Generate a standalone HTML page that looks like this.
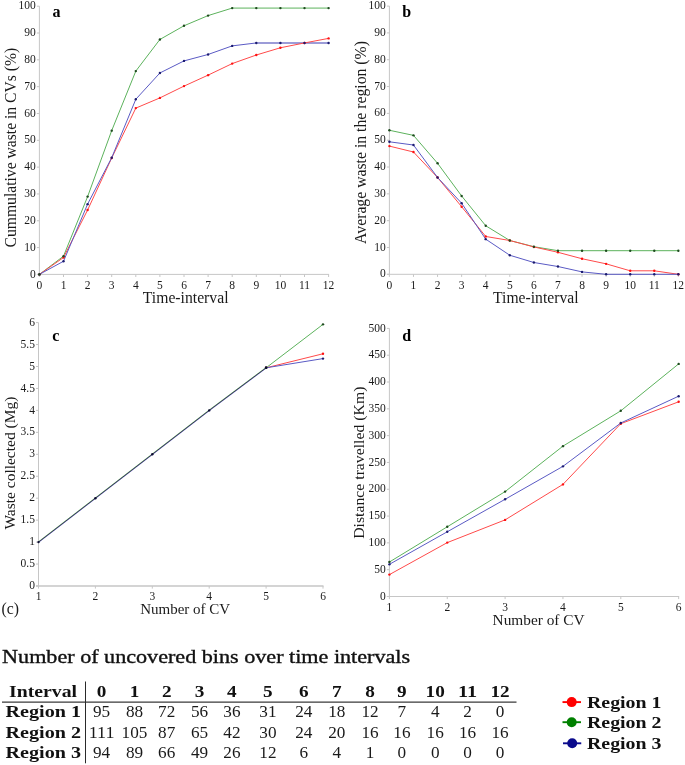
<!DOCTYPE html>
<html><head><meta charset="utf-8"><title>Figure</title>
<style>
html,body{margin:0;padding:0;background:#fff;}
body{width:685px;height:765px;position:relative;overflow:hidden;font-family:"Liberation Serif", serif;}
</style></head><body>
<svg width="685" height="765" viewBox="0 0 685 765" style="position:absolute;left:0;top:0;will-change:transform" font-family='"Liberation Serif", serif'>
<line x1="256.30" y1="42.94" x2="328.60" y2="42.94" stroke="#9c9cd8" stroke-width="2.1"/>
<line x1="39.4" y1="274.9" x2="39.4" y2="6.199999999999989" stroke="#c6c6c6" stroke-width="1"/>
<line x1="36.9" y1="274.4" x2="329.1" y2="274.4" stroke="#c6c6c6" stroke-width="1.0"/>
<line x1="39.40" y1="274.4" x2="39.40" y2="277.0" stroke="#c6c6c6" stroke-width="1"/>
<line x1="63.50" y1="274.4" x2="63.50" y2="277.0" stroke="#c6c6c6" stroke-width="1"/>
<line x1="87.60" y1="274.4" x2="87.60" y2="277.0" stroke="#c6c6c6" stroke-width="1"/>
<line x1="111.70" y1="274.4" x2="111.70" y2="277.0" stroke="#c6c6c6" stroke-width="1"/>
<line x1="135.80" y1="274.4" x2="135.80" y2="277.0" stroke="#c6c6c6" stroke-width="1"/>
<line x1="159.90" y1="274.4" x2="159.90" y2="277.0" stroke="#c6c6c6" stroke-width="1"/>
<line x1="184.00" y1="274.4" x2="184.00" y2="277.0" stroke="#c6c6c6" stroke-width="1"/>
<line x1="208.10" y1="274.4" x2="208.10" y2="277.0" stroke="#c6c6c6" stroke-width="1"/>
<line x1="232.20" y1="274.4" x2="232.20" y2="277.0" stroke="#c6c6c6" stroke-width="1"/>
<line x1="256.30" y1="274.4" x2="256.30" y2="277.0" stroke="#c6c6c6" stroke-width="1"/>
<line x1="280.40" y1="274.4" x2="280.40" y2="277.0" stroke="#c6c6c6" stroke-width="1"/>
<line x1="304.50" y1="274.4" x2="304.50" y2="277.0" stroke="#c6c6c6" stroke-width="1"/>
<line x1="328.60" y1="274.4" x2="328.60" y2="277.0" stroke="#c6c6c6" stroke-width="1"/>
<line x1="36.9" y1="274.4" x2="39.4" y2="274.4" stroke="#c6c6c6" stroke-width="1"/>
<text x="35.80" y="277.50" font-size="11.5" text-anchor="end" font-weight="400" fill="#1a1a1a" >0</text>
<line x1="36.9" y1="247.57999999999998" x2="39.4" y2="247.57999999999998" stroke="#c6c6c6" stroke-width="1"/>
<text x="35.80" y="250.68" font-size="11.5" text-anchor="end" font-weight="400" fill="#1a1a1a" >10</text>
<line x1="36.9" y1="220.76" x2="39.4" y2="220.76" stroke="#c6c6c6" stroke-width="1"/>
<text x="35.80" y="223.86" font-size="11.5" text-anchor="end" font-weight="400" fill="#1a1a1a" >20</text>
<line x1="36.9" y1="193.94" x2="39.4" y2="193.94" stroke="#c6c6c6" stroke-width="1"/>
<text x="35.80" y="197.04" font-size="11.5" text-anchor="end" font-weight="400" fill="#1a1a1a" >30</text>
<line x1="36.9" y1="167.11999999999998" x2="39.4" y2="167.11999999999998" stroke="#c6c6c6" stroke-width="1"/>
<text x="35.80" y="170.22" font-size="11.5" text-anchor="end" font-weight="400" fill="#1a1a1a" >40</text>
<line x1="36.9" y1="140.29999999999998" x2="39.4" y2="140.29999999999998" stroke="#c6c6c6" stroke-width="1"/>
<text x="35.80" y="143.40" font-size="11.5" text-anchor="end" font-weight="400" fill="#1a1a1a" >50</text>
<line x1="36.9" y1="113.47999999999999" x2="39.4" y2="113.47999999999999" stroke="#c6c6c6" stroke-width="1"/>
<text x="35.80" y="116.58" font-size="11.5" text-anchor="end" font-weight="400" fill="#1a1a1a" >60</text>
<line x1="36.9" y1="86.65999999999997" x2="39.4" y2="86.65999999999997" stroke="#c6c6c6" stroke-width="1"/>
<text x="35.80" y="89.76" font-size="11.5" text-anchor="end" font-weight="400" fill="#1a1a1a" >70</text>
<line x1="36.9" y1="59.839999999999975" x2="39.4" y2="59.839999999999975" stroke="#c6c6c6" stroke-width="1"/>
<text x="35.80" y="62.94" font-size="11.5" text-anchor="end" font-weight="400" fill="#1a1a1a" >80</text>
<line x1="36.9" y1="33.01999999999998" x2="39.4" y2="33.01999999999998" stroke="#c6c6c6" stroke-width="1"/>
<text x="35.80" y="36.12" font-size="11.5" text-anchor="end" font-weight="400" fill="#1a1a1a" >90</text>
<line x1="36.9" y1="6.199999999999989" x2="39.4" y2="6.199999999999989" stroke="#c6c6c6" stroke-width="1"/>
<text x="35.80" y="9.30" font-size="11.5" text-anchor="end" font-weight="400" fill="#1a1a1a" >100</text>
<text x="39.40" y="289.00" font-size="11.5" text-anchor="middle" font-weight="400" fill="#1a1a1a" >0</text>
<text x="63.50" y="289.00" font-size="11.5" text-anchor="middle" font-weight="400" fill="#1a1a1a" >1</text>
<text x="87.60" y="289.00" font-size="11.5" text-anchor="middle" font-weight="400" fill="#1a1a1a" >2</text>
<text x="111.70" y="289.00" font-size="11.5" text-anchor="middle" font-weight="400" fill="#1a1a1a" >3</text>
<text x="135.80" y="289.00" font-size="11.5" text-anchor="middle" font-weight="400" fill="#1a1a1a" >4</text>
<text x="159.90" y="289.00" font-size="11.5" text-anchor="middle" font-weight="400" fill="#1a1a1a" >5</text>
<text x="184.00" y="289.00" font-size="11.5" text-anchor="middle" font-weight="400" fill="#1a1a1a" >6</text>
<text x="208.10" y="289.00" font-size="11.5" text-anchor="middle" font-weight="400" fill="#1a1a1a" >7</text>
<text x="232.20" y="289.00" font-size="11.5" text-anchor="middle" font-weight="400" fill="#1a1a1a" >8</text>
<text x="256.30" y="289.00" font-size="11.5" text-anchor="middle" font-weight="400" fill="#1a1a1a" >9</text>
<text x="280.40" y="289.00" font-size="11.5" text-anchor="middle" font-weight="400" fill="#1a1a1a" >10</text>
<text x="304.50" y="289.00" font-size="11.5" text-anchor="middle" font-weight="400" fill="#1a1a1a" >11</text>
<text x="328.60" y="289.00" font-size="11.5" text-anchor="middle" font-weight="400" fill="#1a1a1a" >12</text>
<polyline points="39.40,274.40 63.50,256.16 87.60,196.62 111.70,130.64 135.80,71.10 159.90,39.46 184.00,25.78 208.10,15.59 232.20,8.08 256.30,8.08 280.40,8.08 304.50,8.08 328.60,8.08" fill="none" stroke="#5cb25c" stroke-width="1.0" stroke-linejoin="round"/>
<polyline points="39.40,274.40 63.50,257.50 87.60,210.03 111.70,158.00 135.80,108.12 159.90,97.92 184.00,86.12 208.10,75.13 232.20,63.59 256.30,55.01 280.40,47.77 304.50,42.94 328.60,38.38" fill="none" stroke="#ff4a4a" stroke-width="1.0" stroke-linejoin="round"/>
<polyline points="39.40,274.40 63.50,261.26 87.60,204.13 111.70,157.73 135.80,99.27 159.90,72.98 184.00,60.91 208.10,54.48 232.20,45.89 256.30,42.94" fill="none" stroke="#5a5ac4" stroke-width="1.0" stroke-linejoin="round"/>
<circle cx="39.40" cy="274.40" r="1.2" fill="#ff1010"/>
<circle cx="63.50" cy="257.50" r="1.2" fill="#ff1010"/>
<circle cx="87.60" cy="210.03" r="1.2" fill="#ff1010"/>
<circle cx="111.70" cy="158.00" r="1.2" fill="#ff1010"/>
<circle cx="135.80" cy="108.12" r="1.2" fill="#ff1010"/>
<circle cx="159.90" cy="97.92" r="1.2" fill="#ff1010"/>
<circle cx="184.00" cy="86.12" r="1.2" fill="#ff1010"/>
<circle cx="208.10" cy="75.13" r="1.2" fill="#ff1010"/>
<circle cx="232.20" cy="63.59" r="1.2" fill="#ff1010"/>
<circle cx="256.30" cy="55.01" r="1.2" fill="#ff1010"/>
<circle cx="280.40" cy="47.77" r="1.2" fill="#ff1010"/>
<circle cx="304.50" cy="42.94" r="1.2" fill="#ff1010"/>
<circle cx="328.60" cy="38.38" r="1.2" fill="#ff1010"/>
<circle cx="39.40" cy="274.40" r="1.2" fill="#1c1c70"/>
<circle cx="63.50" cy="261.26" r="1.2" fill="#1c1c70"/>
<circle cx="87.60" cy="204.13" r="1.2" fill="#1c1c70"/>
<circle cx="111.70" cy="157.73" r="1.2" fill="#1c1c70"/>
<circle cx="135.80" cy="99.27" r="1.2" fill="#1c1c70"/>
<circle cx="159.90" cy="72.98" r="1.2" fill="#1c1c70"/>
<circle cx="184.00" cy="60.91" r="1.2" fill="#1c1c70"/>
<circle cx="208.10" cy="54.48" r="1.2" fill="#1c1c70"/>
<circle cx="232.20" cy="45.89" r="1.2" fill="#1c1c70"/>
<circle cx="256.30" cy="42.94" r="1.2" fill="#1c1c70"/>
<circle cx="280.40" cy="42.94" r="1.2" fill="#1c1c70"/>
<circle cx="304.50" cy="42.94" r="1.2" fill="#1c1c70"/>
<circle cx="328.60" cy="42.94" r="1.2" fill="#1c1c70"/>
<circle cx="39.40" cy="274.40" r="1.2" fill="#1e4a1e"/>
<circle cx="63.50" cy="256.16" r="1.2" fill="#1e4a1e"/>
<circle cx="87.60" cy="196.62" r="1.2" fill="#1e4a1e"/>
<circle cx="111.70" cy="130.64" r="1.2" fill="#1e4a1e"/>
<circle cx="135.80" cy="71.10" r="1.2" fill="#1e4a1e"/>
<circle cx="159.90" cy="39.46" r="1.2" fill="#1e4a1e"/>
<circle cx="184.00" cy="25.78" r="1.2" fill="#1e4a1e"/>
<circle cx="208.10" cy="15.59" r="1.2" fill="#1e4a1e"/>
<circle cx="232.20" cy="8.08" r="1.2" fill="#1e4a1e"/>
<circle cx="256.30" cy="8.08" r="1.2" fill="#1e4a1e"/>
<circle cx="280.40" cy="8.08" r="1.2" fill="#1e4a1e"/>
<circle cx="304.50" cy="8.08" r="1.2" fill="#1e4a1e"/>
<circle cx="328.60" cy="8.08" r="1.2" fill="#1e4a1e"/>
<text transform="translate(15.6,147.65) rotate(-90)" x="0" y="0" font-size="15.7" text-anchor="middle" fill="#1a1a1a" textLength="199.7" lengthAdjust="spacingAndGlyphs">Cummulative waste in CVs (%)</text>
<text x="185.65" y="302.90" font-size="15.7" text-anchor="middle" font-weight="400" fill="#1a1a1a" textLength="85.69999999999999" lengthAdjust="spacingAndGlyphs" >Time-interval</text>
<text x="52.50" y="17.30" font-size="16" text-anchor="start" font-weight="700" fill="#000" >a</text>
<line x1="389.4" y1="274.8" x2="389.4" y2="6.100000000000023" stroke="#c6c6c6" stroke-width="1"/>
<line x1="386.9" y1="274.3" x2="678.8599999999999" y2="274.3" stroke="#c6c6c6" stroke-width="1.0"/>
<line x1="389.40" y1="274.3" x2="389.40" y2="276.90000000000003" stroke="#c6c6c6" stroke-width="1"/>
<line x1="413.48" y1="274.3" x2="413.48" y2="276.90000000000003" stroke="#c6c6c6" stroke-width="1"/>
<line x1="437.56" y1="274.3" x2="437.56" y2="276.90000000000003" stroke="#c6c6c6" stroke-width="1"/>
<line x1="461.64" y1="274.3" x2="461.64" y2="276.90000000000003" stroke="#c6c6c6" stroke-width="1"/>
<line x1="485.72" y1="274.3" x2="485.72" y2="276.90000000000003" stroke="#c6c6c6" stroke-width="1"/>
<line x1="509.80" y1="274.3" x2="509.80" y2="276.90000000000003" stroke="#c6c6c6" stroke-width="1"/>
<line x1="533.88" y1="274.3" x2="533.88" y2="276.90000000000003" stroke="#c6c6c6" stroke-width="1"/>
<line x1="557.96" y1="274.3" x2="557.96" y2="276.90000000000003" stroke="#c6c6c6" stroke-width="1"/>
<line x1="582.04" y1="274.3" x2="582.04" y2="276.90000000000003" stroke="#c6c6c6" stroke-width="1"/>
<line x1="606.12" y1="274.3" x2="606.12" y2="276.90000000000003" stroke="#c6c6c6" stroke-width="1"/>
<line x1="630.20" y1="274.3" x2="630.20" y2="276.90000000000003" stroke="#c6c6c6" stroke-width="1"/>
<line x1="654.28" y1="274.3" x2="654.28" y2="276.90000000000003" stroke="#c6c6c6" stroke-width="1"/>
<line x1="678.36" y1="274.3" x2="678.36" y2="276.90000000000003" stroke="#c6c6c6" stroke-width="1"/>
<line x1="386.9" y1="274.3" x2="389.4" y2="274.3" stroke="#c6c6c6" stroke-width="1"/>
<text x="385.80" y="277.40" font-size="11.5" text-anchor="end" font-weight="400" fill="#1a1a1a" >0</text>
<line x1="386.9" y1="247.48000000000002" x2="389.4" y2="247.48000000000002" stroke="#c6c6c6" stroke-width="1"/>
<text x="385.80" y="250.58" font-size="11.5" text-anchor="end" font-weight="400" fill="#1a1a1a" >10</text>
<line x1="386.9" y1="220.66000000000003" x2="389.4" y2="220.66000000000003" stroke="#c6c6c6" stroke-width="1"/>
<text x="385.80" y="223.76" font-size="11.5" text-anchor="end" font-weight="400" fill="#1a1a1a" >20</text>
<line x1="386.9" y1="193.84000000000003" x2="389.4" y2="193.84000000000003" stroke="#c6c6c6" stroke-width="1"/>
<text x="385.80" y="196.94" font-size="11.5" text-anchor="end" font-weight="400" fill="#1a1a1a" >30</text>
<line x1="386.9" y1="167.02" x2="389.4" y2="167.02" stroke="#c6c6c6" stroke-width="1"/>
<text x="385.80" y="170.12" font-size="11.5" text-anchor="end" font-weight="400" fill="#1a1a1a" >40</text>
<line x1="386.9" y1="140.20000000000002" x2="389.4" y2="140.20000000000002" stroke="#c6c6c6" stroke-width="1"/>
<text x="385.80" y="143.30" font-size="11.5" text-anchor="end" font-weight="400" fill="#1a1a1a" >50</text>
<line x1="386.9" y1="113.38000000000002" x2="389.4" y2="113.38000000000002" stroke="#c6c6c6" stroke-width="1"/>
<text x="385.80" y="116.48" font-size="11.5" text-anchor="end" font-weight="400" fill="#1a1a1a" >60</text>
<line x1="386.9" y1="86.56" x2="389.4" y2="86.56" stroke="#c6c6c6" stroke-width="1"/>
<text x="385.80" y="89.66" font-size="11.5" text-anchor="end" font-weight="400" fill="#1a1a1a" >70</text>
<line x1="386.9" y1="59.74000000000001" x2="389.4" y2="59.74000000000001" stroke="#c6c6c6" stroke-width="1"/>
<text x="385.80" y="62.84" font-size="11.5" text-anchor="end" font-weight="400" fill="#1a1a1a" >80</text>
<line x1="386.9" y1="32.920000000000016" x2="389.4" y2="32.920000000000016" stroke="#c6c6c6" stroke-width="1"/>
<text x="385.80" y="36.02" font-size="11.5" text-anchor="end" font-weight="400" fill="#1a1a1a" >90</text>
<line x1="386.9" y1="6.100000000000023" x2="389.4" y2="6.100000000000023" stroke="#c6c6c6" stroke-width="1"/>
<text x="385.80" y="9.20" font-size="11.5" text-anchor="end" font-weight="400" fill="#1a1a1a" >100</text>
<text x="389.40" y="288.90" font-size="11.5" text-anchor="middle" font-weight="400" fill="#1a1a1a" >0</text>
<text x="413.48" y="288.90" font-size="11.5" text-anchor="middle" font-weight="400" fill="#1a1a1a" >1</text>
<text x="437.56" y="288.90" font-size="11.5" text-anchor="middle" font-weight="400" fill="#1a1a1a" >2</text>
<text x="461.64" y="288.90" font-size="11.5" text-anchor="middle" font-weight="400" fill="#1a1a1a" >3</text>
<text x="485.72" y="288.90" font-size="11.5" text-anchor="middle" font-weight="400" fill="#1a1a1a" >4</text>
<text x="509.80" y="288.90" font-size="11.5" text-anchor="middle" font-weight="400" fill="#1a1a1a" >5</text>
<text x="533.88" y="288.90" font-size="11.5" text-anchor="middle" font-weight="400" fill="#1a1a1a" >6</text>
<text x="557.96" y="288.90" font-size="11.5" text-anchor="middle" font-weight="400" fill="#1a1a1a" >7</text>
<text x="582.04" y="288.90" font-size="11.5" text-anchor="middle" font-weight="400" fill="#1a1a1a" >8</text>
<text x="606.12" y="288.90" font-size="11.5" text-anchor="middle" font-weight="400" fill="#1a1a1a" >9</text>
<text x="630.20" y="288.90" font-size="11.5" text-anchor="middle" font-weight="400" fill="#1a1a1a" >10</text>
<text x="654.28" y="288.90" font-size="11.5" text-anchor="middle" font-weight="400" fill="#1a1a1a" >11</text>
<text x="678.36" y="288.90" font-size="11.5" text-anchor="middle" font-weight="400" fill="#1a1a1a" >12</text>
<polyline points="389.40,130.28 413.48,135.37 437.56,163.27 461.64,195.99 485.72,225.76 509.80,240.51 533.88,246.68 557.96,250.70 582.04,250.70 606.12,250.70 630.20,250.70 654.28,250.70 678.36,250.70" fill="none" stroke="#5cb25c" stroke-width="1.0" stroke-linejoin="round"/>
<polyline points="389.40,146.10 413.48,152.00 437.56,177.48 461.64,206.71 485.72,236.48 509.80,240.51 533.88,246.94 557.96,252.31 582.04,258.74 606.12,263.84 630.20,270.81 654.28,270.81 678.36,274.30" fill="none" stroke="#ff4a4a" stroke-width="1.0" stroke-linejoin="round"/>
<polyline points="389.40,141.81 413.48,145.03 437.56,177.48 461.64,203.23 485.72,239.17 509.80,255.26 533.88,262.50 557.96,266.52 582.04,271.89 606.12,274.30 630.20,274.30 654.28,274.30 678.36,274.30" fill="none" stroke="#5a5ac4" stroke-width="1.0" stroke-linejoin="round"/>
<circle cx="389.40" cy="146.10" r="1.2" fill="#ff1010"/>
<circle cx="413.48" cy="152.00" r="1.2" fill="#ff1010"/>
<circle cx="437.56" cy="177.48" r="1.2" fill="#ff1010"/>
<circle cx="461.64" cy="206.71" r="1.2" fill="#ff1010"/>
<circle cx="485.72" cy="236.48" r="1.2" fill="#ff1010"/>
<circle cx="509.80" cy="240.51" r="1.2" fill="#ff1010"/>
<circle cx="533.88" cy="246.94" r="1.2" fill="#ff1010"/>
<circle cx="557.96" cy="252.31" r="1.2" fill="#ff1010"/>
<circle cx="582.04" cy="258.74" r="1.2" fill="#ff1010"/>
<circle cx="606.12" cy="263.84" r="1.2" fill="#ff1010"/>
<circle cx="630.20" cy="270.81" r="1.2" fill="#ff1010"/>
<circle cx="654.28" cy="270.81" r="1.2" fill="#ff1010"/>
<circle cx="678.36" cy="274.30" r="1.2" fill="#ff1010"/>
<circle cx="389.40" cy="141.81" r="1.2" fill="#1c1c70"/>
<circle cx="413.48" cy="145.03" r="1.2" fill="#1c1c70"/>
<circle cx="437.56" cy="177.48" r="1.2" fill="#1c1c70"/>
<circle cx="461.64" cy="203.23" r="1.2" fill="#1c1c70"/>
<circle cx="485.72" cy="239.17" r="1.2" fill="#1c1c70"/>
<circle cx="509.80" cy="255.26" r="1.2" fill="#1c1c70"/>
<circle cx="533.88" cy="262.50" r="1.2" fill="#1c1c70"/>
<circle cx="557.96" cy="266.52" r="1.2" fill="#1c1c70"/>
<circle cx="582.04" cy="271.89" r="1.2" fill="#1c1c70"/>
<circle cx="606.12" cy="274.30" r="1.2" fill="#1c1c70"/>
<circle cx="630.20" cy="274.30" r="1.2" fill="#1c1c70"/>
<circle cx="654.28" cy="274.30" r="1.2" fill="#1c1c70"/>
<circle cx="678.36" cy="274.30" r="1.2" fill="#1c1c70"/>
<circle cx="389.40" cy="130.28" r="1.2" fill="#1e4a1e"/>
<circle cx="413.48" cy="135.37" r="1.2" fill="#1e4a1e"/>
<circle cx="437.56" cy="163.27" r="1.2" fill="#1e4a1e"/>
<circle cx="461.64" cy="195.99" r="1.2" fill="#1e4a1e"/>
<circle cx="485.72" cy="225.76" r="1.2" fill="#1e4a1e"/>
<circle cx="509.80" cy="240.51" r="1.2" fill="#1e4a1e"/>
<circle cx="533.88" cy="246.68" r="1.2" fill="#1e4a1e"/>
<circle cx="557.96" cy="250.70" r="1.2" fill="#1e4a1e"/>
<circle cx="582.04" cy="250.70" r="1.2" fill="#1e4a1e"/>
<circle cx="606.12" cy="250.70" r="1.2" fill="#1e4a1e"/>
<circle cx="630.20" cy="250.70" r="1.2" fill="#1e4a1e"/>
<circle cx="654.28" cy="250.70" r="1.2" fill="#1e4a1e"/>
<circle cx="678.36" cy="250.70" r="1.2" fill="#1e4a1e"/>
<text transform="translate(365.6,142.5) rotate(-90)" x="0" y="0" font-size="15.7" text-anchor="middle" fill="#1a1a1a" textLength="202.8" lengthAdjust="spacingAndGlyphs">Average waste in the region (%)</text>
<text x="535.80" y="302.80" font-size="15.7" text-anchor="middle" font-weight="400" fill="#1a1a1a" textLength="85.39999999999998" lengthAdjust="spacingAndGlyphs" >Time-interval</text>
<text x="402.30" y="17.20" font-size="16" text-anchor="start" font-weight="700" fill="#000" >b</text>
<line x1="38.5" y1="586.5" x2="38.5" y2="322.6" stroke="#c6c6c6" stroke-width="1"/>
<line x1="36.0" y1="586.0" x2="323.5" y2="586.0" stroke="#c6c6c6" stroke-width="1.6"/>
<line x1="38.50" y1="586.0" x2="38.50" y2="588.6" stroke="#c6c6c6" stroke-width="1"/>
<line x1="95.40" y1="586.0" x2="95.40" y2="588.6" stroke="#c6c6c6" stroke-width="1"/>
<line x1="152.30" y1="586.0" x2="152.30" y2="588.6" stroke="#c6c6c6" stroke-width="1"/>
<line x1="209.20" y1="586.0" x2="209.20" y2="588.6" stroke="#c6c6c6" stroke-width="1"/>
<line x1="266.10" y1="586.0" x2="266.10" y2="588.6" stroke="#c6c6c6" stroke-width="1"/>
<line x1="323.00" y1="586.0" x2="323.00" y2="588.6" stroke="#c6c6c6" stroke-width="1"/>
<line x1="36.0" y1="586.0" x2="38.5" y2="586.0" stroke="#c6c6c6" stroke-width="1"/>
<text x="34.90" y="589.10" font-size="11.5" text-anchor="end" font-weight="400" fill="#1a1a1a" >0</text>
<line x1="36.0" y1="564.05" x2="38.5" y2="564.05" stroke="#c6c6c6" stroke-width="1"/>
<text x="34.90" y="567.15" font-size="11.5" text-anchor="end" font-weight="400" fill="#1a1a1a" >0.5</text>
<line x1="36.0" y1="542.1" x2="38.5" y2="542.1" stroke="#c6c6c6" stroke-width="1"/>
<text x="34.90" y="545.20" font-size="11.5" text-anchor="end" font-weight="400" fill="#1a1a1a" >1</text>
<line x1="36.0" y1="520.15" x2="38.5" y2="520.15" stroke="#c6c6c6" stroke-width="1"/>
<text x="34.90" y="523.25" font-size="11.5" text-anchor="end" font-weight="400" fill="#1a1a1a" >1.5</text>
<line x1="36.0" y1="498.2" x2="38.5" y2="498.2" stroke="#c6c6c6" stroke-width="1"/>
<text x="34.90" y="501.30" font-size="11.5" text-anchor="end" font-weight="400" fill="#1a1a1a" >2</text>
<line x1="36.0" y1="476.25" x2="38.5" y2="476.25" stroke="#c6c6c6" stroke-width="1"/>
<text x="34.90" y="479.35" font-size="11.5" text-anchor="end" font-weight="400" fill="#1a1a1a" >2.5</text>
<line x1="36.0" y1="454.3" x2="38.5" y2="454.3" stroke="#c6c6c6" stroke-width="1"/>
<text x="34.90" y="457.40" font-size="11.5" text-anchor="end" font-weight="400" fill="#1a1a1a" >3</text>
<line x1="36.0" y1="432.35" x2="38.5" y2="432.35" stroke="#c6c6c6" stroke-width="1"/>
<text x="34.90" y="435.45" font-size="11.5" text-anchor="end" font-weight="400" fill="#1a1a1a" >3.5</text>
<line x1="36.0" y1="410.4" x2="38.5" y2="410.4" stroke="#c6c6c6" stroke-width="1"/>
<text x="34.90" y="413.50" font-size="11.5" text-anchor="end" font-weight="400" fill="#1a1a1a" >4</text>
<line x1="36.0" y1="388.45000000000005" x2="38.5" y2="388.45000000000005" stroke="#c6c6c6" stroke-width="1"/>
<text x="34.90" y="391.55" font-size="11.5" text-anchor="end" font-weight="400" fill="#1a1a1a" >4.5</text>
<line x1="36.0" y1="366.5" x2="38.5" y2="366.5" stroke="#c6c6c6" stroke-width="1"/>
<text x="34.90" y="369.60" font-size="11.5" text-anchor="end" font-weight="400" fill="#1a1a1a" >5</text>
<line x1="36.0" y1="344.55" x2="38.5" y2="344.55" stroke="#c6c6c6" stroke-width="1"/>
<text x="34.90" y="347.65" font-size="11.5" text-anchor="end" font-weight="400" fill="#1a1a1a" >5.5</text>
<line x1="36.0" y1="322.6" x2="38.5" y2="322.6" stroke="#c6c6c6" stroke-width="1"/>
<text x="34.90" y="325.70" font-size="11.5" text-anchor="end" font-weight="400" fill="#1a1a1a" >6</text>
<text x="38.50" y="600.40" font-size="11.5" text-anchor="middle" font-weight="400" fill="#1a1a1a" >1</text>
<text x="95.40" y="600.40" font-size="11.5" text-anchor="middle" font-weight="400" fill="#1a1a1a" >2</text>
<text x="152.30" y="600.40" font-size="11.5" text-anchor="middle" font-weight="400" fill="#1a1a1a" >3</text>
<text x="209.20" y="600.40" font-size="11.5" text-anchor="middle" font-weight="400" fill="#1a1a1a" >4</text>
<text x="266.10" y="600.40" font-size="11.5" text-anchor="middle" font-weight="400" fill="#1a1a1a" >5</text>
<text x="323.00" y="600.40" font-size="11.5" text-anchor="middle" font-weight="400" fill="#1a1a1a" >6</text>
<polyline points="266.10,367.82 323.00,324.36" fill="none" stroke="#5cb25c" stroke-width="1.0" stroke-linejoin="round"/>
<polyline points="266.10,367.82 323.00,353.77" fill="none" stroke="#ff4a4a" stroke-width="1.0" stroke-linejoin="round"/>
<polyline points="266.10,367.82 323.00,358.60" fill="none" stroke="#5a5ac4" stroke-width="1.0" stroke-linejoin="round"/>
<polyline points="38.50,541.65 95.40,497.75 152.30,453.85 209.20,409.95 266.10,367.37" fill="none" stroke="#6cbf6c" stroke-width="0.8" stroke-linejoin="round"/>
<polyline points="38.50,542.55 95.40,498.65 152.30,454.75 209.20,410.85 266.10,368.27" fill="none" stroke="#7070d8" stroke-width="0.8" stroke-linejoin="round"/>
<polyline points="38.50,542.10 95.40,498.20 152.30,454.30 209.20,410.40 266.10,367.82" fill="none" stroke="#2a2a3c" stroke-width="0.85" stroke-linejoin="round"/>
<circle cx="266.10" cy="367.82" r="1.2" fill="#ff1010"/>
<circle cx="323.00" cy="353.77" r="1.2" fill="#ff1010"/>
<circle cx="266.10" cy="367.82" r="1.2" fill="#1c1c70"/>
<circle cx="323.00" cy="358.60" r="1.2" fill="#1c1c70"/>
<circle cx="266.10" cy="367.82" r="1.2" fill="#1e4a1e"/>
<circle cx="323.00" cy="324.36" r="1.2" fill="#1e4a1e"/>
<circle cx="38.50" cy="542.10" r="1.2" fill="#0c0c30"/>
<circle cx="95.40" cy="498.20" r="1.2" fill="#0c0c30"/>
<circle cx="152.30" cy="454.30" r="1.2" fill="#0c0c30"/>
<circle cx="209.20" cy="410.40" r="1.2" fill="#0c0c30"/>
<circle cx="266.10" cy="367.82" r="1.2" fill="#0c0c30"/>
<text transform="translate(14.9,463.1) rotate(-90)" x="0" y="0" font-size="15.2" text-anchor="middle" fill="#1a1a1a" textLength="132.8" lengthAdjust="spacingAndGlyphs">Waste collected (Mg)</text>
<text x="185.20" y="613.70" font-size="15.2" text-anchor="middle" font-weight="400" fill="#1a1a1a" textLength="90.0" lengthAdjust="spacingAndGlyphs" >Number of CV</text>
<text x="52.30" y="340.60" font-size="16" text-anchor="start" font-weight="700" fill="#000" >c</text>
<text x="1.60" y="614.00" font-size="16.5" text-anchor="start" font-weight="400" fill="#1a1a1a" textLength="17.5" lengthAdjust="spacingAndGlyphs" >(c)</text>
<line x1="389.4" y1="597.0" x2="389.4" y2="328.4" stroke="#c6c6c6" stroke-width="1"/>
<line x1="386.9" y1="596.5" x2="679.15" y2="596.5" stroke="#c6c6c6" stroke-width="1.0"/>
<line x1="389.40" y1="596.5" x2="389.40" y2="599.1" stroke="#c6c6c6" stroke-width="1"/>
<line x1="447.25" y1="596.5" x2="447.25" y2="599.1" stroke="#c6c6c6" stroke-width="1"/>
<line x1="505.10" y1="596.5" x2="505.10" y2="599.1" stroke="#c6c6c6" stroke-width="1"/>
<line x1="562.95" y1="596.5" x2="562.95" y2="599.1" stroke="#c6c6c6" stroke-width="1"/>
<line x1="620.80" y1="596.5" x2="620.80" y2="599.1" stroke="#c6c6c6" stroke-width="1"/>
<line x1="678.65" y1="596.5" x2="678.65" y2="599.1" stroke="#c6c6c6" stroke-width="1"/>
<line x1="386.9" y1="596.5" x2="389.4" y2="596.5" stroke="#c6c6c6" stroke-width="1"/>
<text x="385.80" y="599.60" font-size="11.5" text-anchor="end" font-weight="400" fill="#1a1a1a" >0</text>
<line x1="386.9" y1="569.69" x2="389.4" y2="569.69" stroke="#c6c6c6" stroke-width="1"/>
<text x="385.80" y="572.79" font-size="11.5" text-anchor="end" font-weight="400" fill="#1a1a1a" >50</text>
<line x1="386.9" y1="542.88" x2="389.4" y2="542.88" stroke="#c6c6c6" stroke-width="1"/>
<text x="385.80" y="545.98" font-size="11.5" text-anchor="end" font-weight="400" fill="#1a1a1a" >100</text>
<line x1="386.9" y1="516.0699999999999" x2="389.4" y2="516.0699999999999" stroke="#c6c6c6" stroke-width="1"/>
<text x="385.80" y="519.17" font-size="11.5" text-anchor="end" font-weight="400" fill="#1a1a1a" >150</text>
<line x1="386.9" y1="489.26" x2="389.4" y2="489.26" stroke="#c6c6c6" stroke-width="1"/>
<text x="385.80" y="492.36" font-size="11.5" text-anchor="end" font-weight="400" fill="#1a1a1a" >200</text>
<line x1="386.9" y1="462.45" x2="389.4" y2="462.45" stroke="#c6c6c6" stroke-width="1"/>
<text x="385.80" y="465.55" font-size="11.5" text-anchor="end" font-weight="400" fill="#1a1a1a" >250</text>
<line x1="386.9" y1="435.64" x2="389.4" y2="435.64" stroke="#c6c6c6" stroke-width="1"/>
<text x="385.80" y="438.74" font-size="11.5" text-anchor="end" font-weight="400" fill="#1a1a1a" >300</text>
<line x1="386.9" y1="408.83" x2="389.4" y2="408.83" stroke="#c6c6c6" stroke-width="1"/>
<text x="385.80" y="411.93" font-size="11.5" text-anchor="end" font-weight="400" fill="#1a1a1a" >350</text>
<line x1="386.9" y1="382.02" x2="389.4" y2="382.02" stroke="#c6c6c6" stroke-width="1"/>
<text x="385.80" y="385.12" font-size="11.5" text-anchor="end" font-weight="400" fill="#1a1a1a" >400</text>
<line x1="386.9" y1="355.21000000000004" x2="389.4" y2="355.21000000000004" stroke="#c6c6c6" stroke-width="1"/>
<text x="385.80" y="358.31" font-size="11.5" text-anchor="end" font-weight="400" fill="#1a1a1a" >450</text>
<line x1="386.9" y1="328.4" x2="389.4" y2="328.4" stroke="#c6c6c6" stroke-width="1"/>
<text x="385.80" y="331.50" font-size="11.5" text-anchor="end" font-weight="400" fill="#1a1a1a" >500</text>
<text x="389.40" y="610.70" font-size="11.5" text-anchor="middle" font-weight="400" fill="#1a1a1a" >1</text>
<text x="447.25" y="610.70" font-size="11.5" text-anchor="middle" font-weight="400" fill="#1a1a1a" >2</text>
<text x="505.10" y="610.70" font-size="11.5" text-anchor="middle" font-weight="400" fill="#1a1a1a" >3</text>
<text x="562.95" y="610.70" font-size="11.5" text-anchor="middle" font-weight="400" fill="#1a1a1a" >4</text>
<text x="620.80" y="610.70" font-size="11.5" text-anchor="middle" font-weight="400" fill="#1a1a1a" >5</text>
<text x="678.65" y="610.70" font-size="11.5" text-anchor="middle" font-weight="400" fill="#1a1a1a" >6</text>
<polyline points="389.40,562.02 447.25,526.79 505.10,491.62 562.95,446.15 620.80,410.81 678.65,363.90" fill="none" stroke="#5cb25c" stroke-width="1.0" stroke-linejoin="round"/>
<polyline points="389.40,574.62 447.25,542.61 505.10,519.88 562.95,484.38 620.80,423.68 678.65,401.81" fill="none" stroke="#ff4a4a" stroke-width="1.0" stroke-linejoin="round"/>
<polyline points="389.40,564.33 447.25,531.78 505.10,499.29 562.95,466.36 620.80,422.99 678.65,396.18" fill="none" stroke="#5a5ac4" stroke-width="1.0" stroke-linejoin="round"/>
<circle cx="389.40" cy="574.62" r="1.2" fill="#ff1010"/>
<circle cx="447.25" cy="542.61" r="1.2" fill="#ff1010"/>
<circle cx="505.10" cy="519.88" r="1.2" fill="#ff1010"/>
<circle cx="562.95" cy="484.38" r="1.2" fill="#ff1010"/>
<circle cx="620.80" cy="423.68" r="1.2" fill="#ff1010"/>
<circle cx="678.65" cy="401.81" r="1.2" fill="#ff1010"/>
<circle cx="389.40" cy="564.33" r="1.2" fill="#1c1c70"/>
<circle cx="447.25" cy="531.78" r="1.2" fill="#1c1c70"/>
<circle cx="505.10" cy="499.29" r="1.2" fill="#1c1c70"/>
<circle cx="562.95" cy="466.36" r="1.2" fill="#1c1c70"/>
<circle cx="620.80" cy="422.99" r="1.2" fill="#1c1c70"/>
<circle cx="678.65" cy="396.18" r="1.2" fill="#1c1c70"/>
<circle cx="389.40" cy="562.02" r="1.2" fill="#1e4a1e"/>
<circle cx="447.25" cy="526.79" r="1.2" fill="#1e4a1e"/>
<circle cx="505.10" cy="491.62" r="1.2" fill="#1e4a1e"/>
<circle cx="562.95" cy="446.15" r="1.2" fill="#1e4a1e"/>
<circle cx="620.80" cy="410.81" r="1.2" fill="#1e4a1e"/>
<circle cx="678.65" cy="363.90" r="1.2" fill="#1e4a1e"/>
<text transform="translate(364.0,462.7) rotate(-90)" x="0" y="0" font-size="15.4" text-anchor="middle" fill="#1a1a1a" textLength="152.19999999999993" lengthAdjust="spacingAndGlyphs">Distance travelled (Km)</text>
<text x="538.60" y="624.50" font-size="15.4" text-anchor="middle" font-weight="400" fill="#1a1a1a" textLength="92.0" lengthAdjust="spacingAndGlyphs" >Number of CV</text>
<text x="402.30" y="340.60" font-size="16" text-anchor="start" font-weight="700" fill="#000" >d</text>
<text x="2.10" y="663.10" font-size="18.2" text-anchor="start" font-weight="400" fill="#111" textLength="408" lengthAdjust="spacingAndGlyphs" stroke="#111" stroke-width="0.35">Number of uncovered bins over time intervals</text>
<line x1="2" y1="702.1" x2="516.5" y2="702.1" stroke="#3a3a3a" stroke-width="1.3"/>
<line x1="85.5" y1="681.5" x2="85.5" y2="763.3" stroke="#2a2a2a" stroke-width="1"/>
<text x="9.10" y="696.80" font-size="16.5" text-anchor="start" font-weight="700" fill="#111" textLength="68" lengthAdjust="spacingAndGlyphs" >Interval</text>
<text x="101.60" y="696.80" font-size="16.5" text-anchor="middle" font-weight="700" fill="#111" textLength="9.6" lengthAdjust="spacingAndGlyphs" >0</text>
<text x="134.50" y="696.80" font-size="16.5" text-anchor="middle" font-weight="700" fill="#111" textLength="9.6" lengthAdjust="spacingAndGlyphs" >1</text>
<text x="166.70" y="696.80" font-size="16.5" text-anchor="middle" font-weight="700" fill="#111" textLength="9.6" lengthAdjust="spacingAndGlyphs" >2</text>
<text x="199.50" y="696.80" font-size="16.5" text-anchor="middle" font-weight="700" fill="#111" textLength="9.6" lengthAdjust="spacingAndGlyphs" >3</text>
<text x="231.90" y="696.80" font-size="16.5" text-anchor="middle" font-weight="700" fill="#111" textLength="9.6" lengthAdjust="spacingAndGlyphs" >4</text>
<text x="267.90" y="696.80" font-size="16.5" text-anchor="middle" font-weight="700" fill="#111" textLength="9.6" lengthAdjust="spacingAndGlyphs" >5</text>
<text x="303.80" y="696.80" font-size="16.5" text-anchor="middle" font-weight="700" fill="#111" textLength="9.6" lengthAdjust="spacingAndGlyphs" >6</text>
<text x="336.80" y="696.80" font-size="16.5" text-anchor="middle" font-weight="700" fill="#111" textLength="9.6" lengthAdjust="spacingAndGlyphs" >7</text>
<text x="370.00" y="696.80" font-size="16.5" text-anchor="middle" font-weight="700" fill="#111" textLength="9.6" lengthAdjust="spacingAndGlyphs" >8</text>
<text x="401.90" y="696.80" font-size="16.5" text-anchor="middle" font-weight="700" fill="#111" textLength="9.6" lengthAdjust="spacingAndGlyphs" >9</text>
<text x="435.20" y="696.80" font-size="16.5" text-anchor="middle" font-weight="700" fill="#111" textLength="19.2" lengthAdjust="spacingAndGlyphs" >10</text>
<text x="467.50" y="696.80" font-size="16.5" text-anchor="middle" font-weight="700" fill="#111" textLength="19.2" lengthAdjust="spacingAndGlyphs" >11</text>
<text x="500.00" y="696.80" font-size="16.5" text-anchor="middle" font-weight="700" fill="#111" textLength="19.2" lengthAdjust="spacingAndGlyphs" >12</text>
<text x="5.50" y="717.40" font-size="16.5" text-anchor="start" font-weight="700" fill="#111" textLength="75.5" lengthAdjust="spacingAndGlyphs" >Region 1</text>
<text x="101.60" y="717.40" font-size="16.5" text-anchor="middle" font-weight="400" fill="#1a1a1a" textLength="17.2" lengthAdjust="spacingAndGlyphs" >95</text>
<text x="134.50" y="717.40" font-size="16.5" text-anchor="middle" font-weight="400" fill="#1a1a1a" textLength="17.2" lengthAdjust="spacingAndGlyphs" >88</text>
<text x="166.70" y="717.40" font-size="16.5" text-anchor="middle" font-weight="400" fill="#1a1a1a" textLength="17.2" lengthAdjust="spacingAndGlyphs" >72</text>
<text x="199.50" y="717.40" font-size="16.5" text-anchor="middle" font-weight="400" fill="#1a1a1a" textLength="17.2" lengthAdjust="spacingAndGlyphs" >56</text>
<text x="231.90" y="717.40" font-size="16.5" text-anchor="middle" font-weight="400" fill="#1a1a1a" textLength="17.2" lengthAdjust="spacingAndGlyphs" >36</text>
<text x="267.90" y="717.40" font-size="16.5" text-anchor="middle" font-weight="400" fill="#1a1a1a" textLength="17.2" lengthAdjust="spacingAndGlyphs" >31</text>
<text x="303.80" y="717.40" font-size="16.5" text-anchor="middle" font-weight="400" fill="#1a1a1a" textLength="17.2" lengthAdjust="spacingAndGlyphs" >24</text>
<text x="336.80" y="717.40" font-size="16.5" text-anchor="middle" font-weight="400" fill="#1a1a1a" textLength="17.2" lengthAdjust="spacingAndGlyphs" >18</text>
<text x="370.00" y="717.40" font-size="16.5" text-anchor="middle" font-weight="400" fill="#1a1a1a" textLength="17.2" lengthAdjust="spacingAndGlyphs" >12</text>
<text x="401.90" y="717.40" font-size="16.5" text-anchor="middle" font-weight="400" fill="#1a1a1a" textLength="8.6" lengthAdjust="spacingAndGlyphs" >7</text>
<text x="435.20" y="717.40" font-size="16.5" text-anchor="middle" font-weight="400" fill="#1a1a1a" textLength="8.6" lengthAdjust="spacingAndGlyphs" >4</text>
<text x="467.50" y="717.40" font-size="16.5" text-anchor="middle" font-weight="400" fill="#1a1a1a" textLength="8.6" lengthAdjust="spacingAndGlyphs" >2</text>
<text x="500.00" y="717.40" font-size="16.5" text-anchor="middle" font-weight="400" fill="#1a1a1a" textLength="8.6" lengthAdjust="spacingAndGlyphs" >0</text>
<text x="5.50" y="737.90" font-size="16.5" text-anchor="start" font-weight="700" fill="#111" textLength="75.5" lengthAdjust="spacingAndGlyphs" >Region 2</text>
<text x="101.60" y="737.90" font-size="16.5" text-anchor="middle" font-weight="400" fill="#1a1a1a" textLength="25.799999999999997" lengthAdjust="spacingAndGlyphs" >111</text>
<text x="134.50" y="737.90" font-size="16.5" text-anchor="middle" font-weight="400" fill="#1a1a1a" textLength="25.799999999999997" lengthAdjust="spacingAndGlyphs" >105</text>
<text x="166.70" y="737.90" font-size="16.5" text-anchor="middle" font-weight="400" fill="#1a1a1a" textLength="17.2" lengthAdjust="spacingAndGlyphs" >87</text>
<text x="199.50" y="737.90" font-size="16.5" text-anchor="middle" font-weight="400" fill="#1a1a1a" textLength="17.2" lengthAdjust="spacingAndGlyphs" >65</text>
<text x="231.90" y="737.90" font-size="16.5" text-anchor="middle" font-weight="400" fill="#1a1a1a" textLength="17.2" lengthAdjust="spacingAndGlyphs" >42</text>
<text x="267.90" y="737.90" font-size="16.5" text-anchor="middle" font-weight="400" fill="#1a1a1a" textLength="17.2" lengthAdjust="spacingAndGlyphs" >30</text>
<text x="303.80" y="737.90" font-size="16.5" text-anchor="middle" font-weight="400" fill="#1a1a1a" textLength="17.2" lengthAdjust="spacingAndGlyphs" >24</text>
<text x="336.80" y="737.90" font-size="16.5" text-anchor="middle" font-weight="400" fill="#1a1a1a" textLength="17.2" lengthAdjust="spacingAndGlyphs" >20</text>
<text x="370.00" y="737.90" font-size="16.5" text-anchor="middle" font-weight="400" fill="#1a1a1a" textLength="17.2" lengthAdjust="spacingAndGlyphs" >16</text>
<text x="401.90" y="737.90" font-size="16.5" text-anchor="middle" font-weight="400" fill="#1a1a1a" textLength="17.2" lengthAdjust="spacingAndGlyphs" >16</text>
<text x="435.20" y="737.90" font-size="16.5" text-anchor="middle" font-weight="400" fill="#1a1a1a" textLength="17.2" lengthAdjust="spacingAndGlyphs" >16</text>
<text x="467.50" y="737.90" font-size="16.5" text-anchor="middle" font-weight="400" fill="#1a1a1a" textLength="17.2" lengthAdjust="spacingAndGlyphs" >16</text>
<text x="500.00" y="737.90" font-size="16.5" text-anchor="middle" font-weight="400" fill="#1a1a1a" textLength="17.2" lengthAdjust="spacingAndGlyphs" >16</text>
<text x="5.50" y="758.20" font-size="16.5" text-anchor="start" font-weight="700" fill="#111" textLength="75.5" lengthAdjust="spacingAndGlyphs" >Region 3</text>
<text x="101.60" y="758.20" font-size="16.5" text-anchor="middle" font-weight="400" fill="#1a1a1a" textLength="17.2" lengthAdjust="spacingAndGlyphs" >94</text>
<text x="134.50" y="758.20" font-size="16.5" text-anchor="middle" font-weight="400" fill="#1a1a1a" textLength="17.2" lengthAdjust="spacingAndGlyphs" >89</text>
<text x="166.70" y="758.20" font-size="16.5" text-anchor="middle" font-weight="400" fill="#1a1a1a" textLength="17.2" lengthAdjust="spacingAndGlyphs" >66</text>
<text x="199.50" y="758.20" font-size="16.5" text-anchor="middle" font-weight="400" fill="#1a1a1a" textLength="17.2" lengthAdjust="spacingAndGlyphs" >49</text>
<text x="231.90" y="758.20" font-size="16.5" text-anchor="middle" font-weight="400" fill="#1a1a1a" textLength="17.2" lengthAdjust="spacingAndGlyphs" >26</text>
<text x="267.90" y="758.20" font-size="16.5" text-anchor="middle" font-weight="400" fill="#1a1a1a" textLength="17.2" lengthAdjust="spacingAndGlyphs" >12</text>
<text x="303.80" y="758.20" font-size="16.5" text-anchor="middle" font-weight="400" fill="#1a1a1a" textLength="8.6" lengthAdjust="spacingAndGlyphs" >6</text>
<text x="336.80" y="758.20" font-size="16.5" text-anchor="middle" font-weight="400" fill="#1a1a1a" textLength="8.6" lengthAdjust="spacingAndGlyphs" >4</text>
<text x="370.00" y="758.20" font-size="16.5" text-anchor="middle" font-weight="400" fill="#1a1a1a" textLength="8.6" lengthAdjust="spacingAndGlyphs" >1</text>
<text x="401.90" y="758.20" font-size="16.5" text-anchor="middle" font-weight="400" fill="#1a1a1a" textLength="8.6" lengthAdjust="spacingAndGlyphs" >0</text>
<text x="435.20" y="758.20" font-size="16.5" text-anchor="middle" font-weight="400" fill="#1a1a1a" textLength="8.6" lengthAdjust="spacingAndGlyphs" >0</text>
<text x="467.50" y="758.20" font-size="16.5" text-anchor="middle" font-weight="400" fill="#1a1a1a" textLength="8.6" lengthAdjust="spacingAndGlyphs" >0</text>
<text x="500.00" y="758.20" font-size="16.5" text-anchor="middle" font-weight="400" fill="#1a1a1a" textLength="8.6" lengthAdjust="spacingAndGlyphs" >0</text>
<line x1="562.5" y1="702.1" x2="581.0" y2="702.1" stroke="#ff0000" stroke-width="1.9"/>
<circle cx="571.7" cy="702.1" r="5" fill="#ff0000"/>
<text x="587.00" y="707.70" font-size="16.5" text-anchor="start" font-weight="700" fill="#111" textLength="74.5" lengthAdjust="spacingAndGlyphs" >Region 1</text>
<line x1="562.5" y1="722.2" x2="581.0" y2="722.2" stroke="#008000" stroke-width="1.9"/>
<circle cx="571.7" cy="722.2" r="5" fill="#008000"/>
<text x="587.00" y="727.80" font-size="16.5" text-anchor="start" font-weight="700" fill="#111" textLength="74.5" lengthAdjust="spacingAndGlyphs" >Region 2</text>
<line x1="563.0" y1="743.3" x2="581.25" y2="743.3" stroke="#0a0a8c" stroke-width="1.9"/>
<circle cx="572.2" cy="743.3" r="5" fill="#0a0a8c"/>
<text x="587.00" y="748.60" font-size="16.5" text-anchor="start" font-weight="700" fill="#111" textLength="74.5" lengthAdjust="spacingAndGlyphs" >Region 3</text>
</svg>
</body></html>
